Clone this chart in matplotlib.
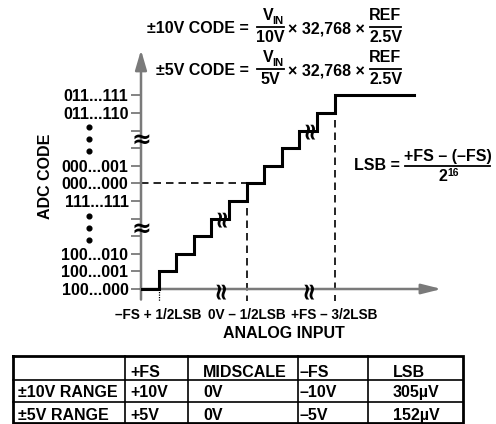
import matplotlib
matplotlib.use("Agg")
import matplotlib.pyplot as plt

plt.rcParams['font.family'] = ['Liberation Sans', 'DejaVu Sans']
plt.rcParams['font.weight'] = 'bold'

# ---- data ----
code_pos = [0, 1, 2, 3, 4, 5, 6, 7, 8, 9, 10, 11]
code_labels = ['100...000', '100...001', '100...010', '', '', '111...111',
               '000...000', '000...001', '', '', '011...110', '011...111']
step_edges = [0, 1, 2, 3, 4, 5, 6, 7, 8, 9, 10, 11, 15.5]
step_codes = [0, 1, 2, 3, 4, 5, 6, 7, 8, 9, 10, 11, 11]
input_ticks = [1, 6, 11]
input_labels = ['\u2013FS + 1/2LSB', '0V \u2013 1/2LSB', '+FS \u2013 3/2LSB']
midscale_code = 6
code_breaks = [3.45, 8.5]
input_breaks = [4.5, 9.5]
curve_breaks = [(4.55, 4.1), (9.55, 9.1)]
dot_levels = [2.77, 3.45, 4.13, 7.82, 8.5, 9.18]

table_header = ['', '+FS', 'MIDSCALE', '\u2013FS', 'LSB']
table_rows = [['\u00b110V RANGE', '+10V', '0V', '\u201310V', '305\u00b5V'],
              ['\u00b15V RANGE', '+5V', '0V', '\u20135V', '152\u00b5V']]

W, H = 496, 424
U = 17.6
x0, y0 = 141, 289
xmin, xmax = 0, 17.6
ymin, ymax = -1.0, 13.9
gray = '#7a7a7a'
fs = 11.5

fig = plt.figure(figsize=(W / 100, H / 100), dpi=100)
ax = fig.add_axes([(x0 + xmin * U) / W, (H - (y0 - ymin * U)) / H,
                   (xmax - xmin) * U / W, (ymax - ymin) * U / H])
ax.set_xlim(xmin, xmax)
ax.set_ylim(ymin, ymax)
ax.patch.set_visible(False)
for s in ax.spines.values():
    s.set_visible(False)

# axes with arrows
ax.annotate('', xy=(17.08, 0), xytext=(-0.05, 0), annotation_clip=False,
            arrowprops=dict(arrowstyle='-|>,head_length=1.2,head_width=0.3',
                            color=gray, lw=1.8, shrinkA=0, shrinkB=0, mutation_scale=10))
ax.annotate('', xy=(0, 13.58), xytext=(0, -0.6), annotation_clip=False,
            arrowprops=dict(arrowstyle='-|>,head_length=1.2,head_width=0.35',
                            color=gray, lw=1.8, shrinkA=0, shrinkB=0, mutation_scale=10))

# transfer function
ax.step(step_edges, step_codes, where='post', color='black', lw=2.2,
        solid_joinstyle='miter', zorder=3)

# guide lines
ax.plot([0, input_ticks[1]], [midscale_code, midscale_code], color='black', lw=1.2,
        ls=(0, (4.5, 3)))
ax.plot([input_ticks[1], input_ticks[1]], [midscale_code, -0.7], color='black', lw=1.2,
        ls=(0, (4.5, 3)), clip_on=False)
ax.plot([input_ticks[2], input_ticks[2]], [code_pos[-1], -0.7], color='black', lw=1.2,
        ls=(0, (4.5, 3)), clip_on=False)
ax.plot([input_ticks[0], input_ticks[0]], [0, -0.7], color='black', lw=0.9,
        ls=(0, (1, 1)), clip_on=False)

# break marks
brk = dict(family='DejaVu Sans', fontsize=17, fontweight='bold',
           ha='center', va='center', zorder=4)
for yb in code_breaks:
    ax.text(0, yb, '\u2248', **brk)
for xb in input_breaks:
    ax.text(xb, 0, '\u2248', rotation=90, **brk)
for xb, yb in curve_breaks:
    ax.text(xb, yb, '\u2248', rotation=90, **brk)
ax.plot([-2.95] * len(dot_levels), dot_levels, 'o', color='black', ms=3.4, clip_on=False)

# ticks
ax.set_yticks(code_pos)
ax.set_yticklabels(code_labels, fontsize=fs, fontweight='bold')
ax.tick_params(axis='y', direction='out', length=7, width=1.3, color=gray, pad=2)
ax.set_xticks(input_ticks)
ax.set_xticklabels(input_labels, fontsize=fs * 0.85, fontweight='bold')
ax.tick_params(axis='x', length=0, pad=1)

# overlay in pixel coordinates for text and table
ov = fig.add_axes([0, 0, 1, 1])
ov.set_xlim(0, W)
ov.set_ylim(H, 0)
ov.axis('off')
ov.patch.set_visible(False)

tk = dict(fontsize=fs, fontweight='bold')
ov.text(284, 333, 'ANALOG INPUT', ha='center', va='center', **tk)
ov.text(45, 176, 'ADC CODE', rotation=90, ha='center', va='center', **tk)


def frac(xc, ybar, num, den, w, sub=None):
    if sub:
        ov.text(xc + 3, ybar - 6, num, ha='right', va='baseline', **tk)
        ov.text(xc + 2, ybar - 2.5, sub, fontsize=fs * 0.7, fontweight='bold',
                ha='left', va='baseline')
    else:
        ov.text(xc, ybar - 6, num, ha='center', va='baseline', **tk)
    ov.text(xc, ybar + 15.5, den, ha='center', va='baseline', **tk)
    ov.plot([xc - w / 2, xc + w / 2], [ybar, ybar], color='black', lw=1.3)


for dy, lhs, den in [(0, '\u00b110V CODE =', '10V'), (42, '\u00b15V CODE =', '5V')]:
    ov.text(249, 33 + dy, lhs, ha='right', va='baseline', **tk)
    frac(270.5, 26.5 + dy, 'V', den, 27, sub='IN')
    ov.text(288, 33 + dy, '\u00d7 32,768 \u00d7', ha='left', va='baseline', **tk)
    frac(385.5, 26.5 + dy, 'REF', '2.5V', 31)

ov.text(400, 170, 'LSB =', ha='right', va='baseline', **tk)
ov.text(447.5, 161.5, '+FS \u2013 (\u2013FS)', ha='center', va='baseline', **tk)
ov.plot([405, 490], [165.7, 165.7], color='black', lw=1.3)
ov.text(447, 181, '2', ha='right', va='baseline', **tk)
ov.text(447, 176, '16', fontsize=fs * 0.65, fontweight='bold', ha='left', va='baseline')

# table
col_edges = [12.7, 125, 188, 298, 368, 462.7]
row_edges = [356, 380, 401.7, 423]
col_text_x = [18, 130, 203, 300, 393]
row_base = [377, 397, 420]
for xe in col_edges[1:-1]:
    ov.plot([xe, xe], [row_edges[0], row_edges[-1]], color='black', lw=1.2)
for ye in row_edges[1:-1]:
    ov.plot([col_edges[0], col_edges[-1]], [ye, ye], color='black', lw=1.2)
ov.plot([col_edges[0], col_edges[-1], col_edges[-1], col_edges[0], col_edges[0]],
        [row_edges[0], row_edges[0], row_edges[-1], row_edges[-1], row_edges[0]],
        color='black', lw=2, solid_joinstyle='miter')
for r, row in enumerate([table_header] + table_rows):
    for c, txt in enumerate(row):
        ov.text(col_text_x[c], row_base[r], txt, ha='left', va='baseline', **tk)

fig.savefig('out.png', dpi=100)
